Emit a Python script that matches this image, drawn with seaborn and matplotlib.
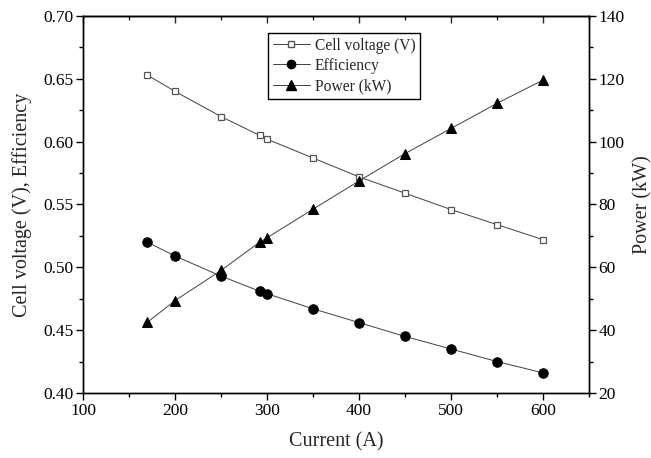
import numpy as np
import pandas as pd
import seaborn as sns
import matplotlib.pyplot as plt
from matplotlib.ticker import MultipleLocator, NullFormatter
from matplotlib.lines import Line2D

# data
current = [170, 200, 250, 292, 300, 350, 400, 450, 500, 550, 600]
cell_voltage = [0.653, 0.640, 0.620, 0.605, 0.602, 0.587, 0.572, 0.559, 0.546, 0.534, 0.522]
efficiency = [0.520, 0.509, 0.493, 0.481, 0.479, 0.467, 0.456, 0.445, 0.435, 0.425, 0.416]
power = [42.5, 49.4, 59.0, 68.0, 69.4, 78.5, 87.5, 96.2, 104.2, 112.2, 119.6]

df = pd.DataFrame({'current': current, 'voltage': cell_voltage,
                   'eff': efficiency, 'power': power})

sns.set_theme(style='ticks')
plt.rcParams['font.family'] = ['Liberation Serif', 'DejaVu Serif']

fig = plt.figure(figsize=(6.51, 4.58), dpi=100)
ax = fig.add_axes([0.1275, 0.142, 0.7773, 0.823])
ax2 = ax.twinx()

lc = '#404040'
sns.lineplot(data=df, x='current', y='voltage', ax=ax, color=lc, lw=0.7,
             marker='s', markersize=5, markerfacecolor='white',
             markeredgecolor='#555555', markeredgewidth=0.9)
sns.lineplot(data=df, x='current', y='eff', ax=ax, color=lc, lw=0.7,
             marker='o', markersize=6.8, markerfacecolor='black',
             markeredgecolor='black')
sns.lineplot(data=df, x='current', y='power', ax=ax2, color=lc, lw=0.7,
             marker='^', markersize=7.8, markerfacecolor='black',
             markeredgecolor='black')

ax.set_xlim(100, 650)
ax.set_ylim(0.40, 0.70)
ax2.set_ylim(20, 140)

ax.xaxis.set_major_locator(MultipleLocator(100))
ax.xaxis.set_minor_locator(MultipleLocator(50))
ax.yaxis.set_major_locator(MultipleLocator(0.05))
ax.yaxis.set_minor_locator(MultipleLocator(0.025))
ax2.yaxis.set_major_locator(MultipleLocator(20))
ax2.yaxis.set_minor_locator(MultipleLocator(10))
ax.yaxis.set_major_formatter(plt.FormatStrFormatter('%.2f'))

for a in (ax, ax2):
    for s in a.spines.values():
        s.set_visible(True)
        s.set_linewidth(1.0)
        s.set_color('black')

for a, axis in ((ax, 'both'), (ax2, 'y')):
    a.tick_params(axis=axis, which='major', direction='out', length=5,
                  width=1.0, labelsize=12.5, colors='black', pad=2)
    a.tick_params(axis=axis, which='minor', direction='out', length=3,
                  width=1.0, colors='black')

# inward ticks along the top spine
top = ax.secondary_xaxis('top')
top.xaxis.set_major_locator(MultipleLocator(100))
top.xaxis.set_minor_locator(MultipleLocator(50))
top.xaxis.set_major_formatter(NullFormatter())
top.tick_params(which='major', direction='in', length=5, width=1.0)
top.tick_params(which='minor', direction='in', length=3, width=1.0)
top.spines['top'].set_linewidth(1.0)

ax.set_xlabel('Current (A)', fontsize=14.5, labelpad=10)
ax.set_ylabel('Cell voltage (V), Efficiency', fontsize=14.5, labelpad=8)
ax2.set_ylabel('Power (kW)', fontsize=14.5, labelpad=6)

handles = [
    Line2D([], [], color=lc, lw=0.7, marker='s', markersize=4.5,
           markerfacecolor='white', markeredgecolor='#555555'),
    Line2D([], [], color=lc, lw=0.7, marker='o', markersize=6,
           markerfacecolor='black', markeredgecolor='black'),
    Line2D([], [], color=lc, lw=0.7, marker='^', markersize=7,
           markerfacecolor='black', markeredgecolor='black'),
]
labels = ['Cell voltage (V)', 'Efficiency', 'Power (kW)']
leg = ax.legend(handles, labels, loc='upper left',
                bbox_to_anchor=(0.3656, 0.955), fontsize=11.2, frameon=True,
                fancybox=False, edgecolor='black', framealpha=1,
                handlelength=2.4, handletextpad=0.3, borderpad=0.3,
                labelspacing=0.27, borderaxespad=0)
leg.get_frame().set_linewidth(1.0)

fig.savefig('out.png', dpi=100)
